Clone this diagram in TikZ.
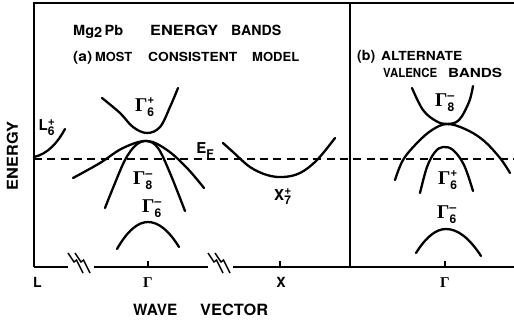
\documentclass[tikz,border=0pt]{standalone}
\usepackage{fontspec}
\setmainfont{TeX Gyre Heros}
\newfontfamily\gfont{Liberation Serif}
\usepackage{graphicx}
\newcommand{\fitword}[2]{\resizebox{#1}{\height}{#2}}
\newcommand{\scr}[1]{\mbox{\fontsize{12}{12}\selectfont\bfseries #1}}
\newcommand{\gsym}[2]{{\gfont\bfseries Γ}$^{\scr{#2}}_{\scr{#1}}$}
\tikzset{
  band/.style={line width=2.3pt, line cap=round},
  axis/.style={line width=1.5pt},
  fermi/.style={line width=1.3pt, dash pattern=on 8pt off 5.3pt},
  lbl/.style={inner sep=0pt, anchor=base west, font=\bfseries},
  sym/.style={inner sep=0pt, font=\fontsize{19.5}{19.5}\selectfont\bfseries},
  brk/.style={line width=1.4pt, line join=miter},
}
\begin{document}
\begin{tikzpicture}[x=1pt,y=-1pt]
\useasboundingbox (0,0) rectangle (514,322);
% frame
\coordinate (tl) at (34,3);
\coordinate (tr) at (514,3);
\coordinate (bl) at (34,267);
\coordinate (dt) at (350,3);
\coordinate (db) at (350,267);
\coordinate (b1) at (68,267);
\coordinate (b2) at (94,267);
\coordinate (b3) at (208,267);
\coordinate (b4) at (233,267);
\coordinate (br) at (514,267);
\draw[axis] (bl) -- (tl) -- (tr);
\draw[axis] (dt) -- (db);
\draw[axis] (bl) -- (b1);
\draw[axis] (b2) -- (b3);
\draw[axis] (b4) -- (br);
% break marks
\foreach \x in {68,75,208,215}{
  \draw[brk] (\x,253) -- (\x+6,262) -- (\x+8.5,260) -- (\x+15,273);
}
% ticks
\draw[axis] (148,267) -- (148,261);
\draw[axis] (280,267) -- (280,261);
\draw[axis] (445,267) -- (445,261);
% Fermi level
\coordinate (fl) at (34,159);
\coordinate (fr) at (514,159);
\draw[fermi] (fl) -- (fr);
% panel (a) bands
\draw[band] (34,157) .. controls (48,154) and (58,142) .. (65,129);
\draw[band] plot[smooth, tension=0.6] coordinates {(102,98) (120,113) (133,127) (147,133) (160,127) (170,107) (178,88)};
\draw[band] plot[smooth, tension=0.6] coordinates {(73,178) (100,163) (123,148) (147,141) (167,150) (187,168) (204,188)};
\draw[band] plot[smooth, tension=0.6] coordinates {(105,208) (113,188) (125,160) (136,145) (147,141) (158,148) (170,173) (185,211)};
\draw[band] (117,249) .. controls (127.3,231) and (137.7,222) .. (148,222) .. controls (158.3,222) and (168.7,230.3) .. (179,247);
\draw[band] plot[smooth, tension=0.6] coordinates {(223,143) (233,152) (250,167) (267,175) (283,177) (300,173) (317,160) (335,138)};
% panel (b) bands
\draw[band] plot[smooth, tension=0.6] coordinates {(412,88) (423,110) (436,121) (447,124) (459,120) (469,102) (473,86)};
\draw[band] plot[smooth, tension=0.6] coordinates {(395,180) (403,160) (417,143) (432,130) (447,124) (465,129) (483,140) (500,158) (510,173)};
\draw[band] plot[smooth, tension=0.6] coordinates {(420,193) (427,167) (435,152) (443,147) (453,150) (464,165) (473,191)};
\draw[band] (416,253) .. controls (426,237) and (436,229) .. (446,229) .. controls (457.7,229) and (469.3,238) .. (481,256);
% band labels
\node[sym] (g6pa) at (145,107) {\gsym{6}{+}};
\node[sym] (g8ma) at (143,181) {\gsym{8}{--}};
\node[sym] (g6ma) at (152,209) {\gsym{6}{--}};
\node[sym] (l6p) at (47,128) {\fontsize{15}{15}\selectfont L$_{\scr{6}}^{\scr{+}}$};
\node[sym] (x7p) at (283,197) {\fontsize{15}{15}\selectfont X$_{\scr{7}}^{\scr{+}}$};
\node[sym] (ef) at (205,151) {\fontsize{15}{15}\selectfont E\raisebox{-5pt}{\fontsize{12}{12}\selectfont F}};
\node[sym] (g8mb) at (445,103) {\gsym{8}{--}};
\node[sym] (g6pb) at (448,180) {\gsym{6}{+}};
\node[sym] (g6mb) at (447,215) {\gsym{6}{--}};
% titles
\node[lbl] (t1) at (73,35) {\fontsize{14}{14}\selectfont\fitword{50pt}{Mg\raisebox{-2pt}{2}\,Pb}};
\node[lbl] (t2) at (150,35) {\fontsize{14}{14}\selectfont\fitword{68pt}{ENERGY}};
\node[lbl] (t3) at (231,35) {\fontsize{14}{14}\selectfont\fitword{50pt}{BANDS}};
\node[lbl] (a1) at (73,61) {\fontsize{14}{14}\selectfont\fitword{19pt}{(a)}};
\node[lbl] (a2) at (95,61) {\fontsize{12.5}{12.5}\selectfont\fitword{37pt}{MOST}};
\node[lbl] (a3) at (148,61) {\fontsize{12.5}{12.5}\selectfont\fitword{89pt}{CONSISTENT}};
\node[lbl] (a4) at (252,61) {\fontsize{12.5}{12.5}\selectfont\fitword{47pt}{MODEL}};
\node[lbl] (b1t) at (357,60) {\fontsize{14}{14}\selectfont\fitword{18pt}{(b)}};
\node[lbl] (b2t) at (381,60) {\fontsize{12.5}{12.5}\selectfont\fitword{81pt}{ALTERNATE}};
\node[lbl] (b3t) at (383,77) {\fontsize{12.5}{12.5}\selectfont\fitword{54pt}{VALENCE}};
\node[lbl] (b4t) at (448,77) {\fontsize{12.5}{12.5}\selectfont\fitword{54pt}{BANDS}};
% axis labels
\node[lbl] (xl) at (33,287) {\fontsize{14}{14}\selectfont L};
\node[inner sep=0pt, anchor=base] (xg1) at (148,287) {\fontsize{15}{15}\selectfont\gfont\bfseries Γ};
\node[inner sep=0pt, anchor=base, font=\bfseries] (xx) at (281,287) {\fontsize{14}{14}\selectfont X};
\node[inner sep=0pt, anchor=base] (xg2) at (445,287) {\fontsize{15}{15}\selectfont\gfont\bfseries Γ};
\node[lbl] (w1) at (133,315) {\fontsize{15.5}{15.5}\selectfont\fitword{44pt}{WAVE}};
\node[lbl] (w2) at (200,315) {\fontsize{15.5}{15.5}\selectfont\fitword{68pt}{VECTOR}};
\node[inner sep=0pt, anchor=base, rotate=90, font=\bfseries] (en) at (18,156) {\fontsize{15}{15}\selectfont\fitword{68pt}{ENERGY}};
\end{tikzpicture}
\end{document}
